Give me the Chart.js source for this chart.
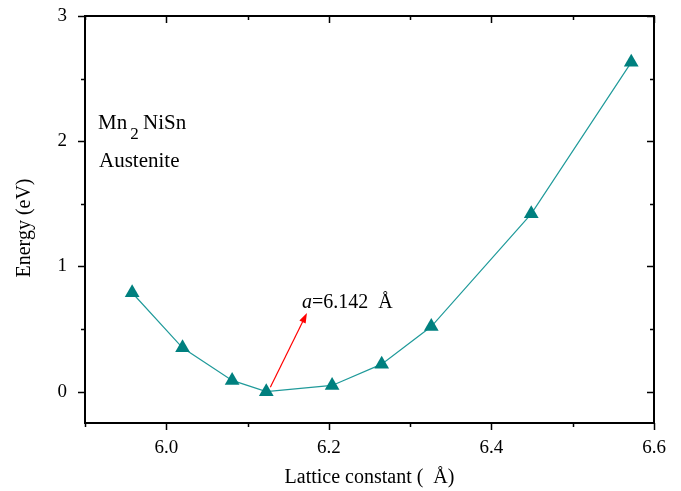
<!DOCTYPE html>
<html>
<head>
<meta charset="utf-8">
<script src="https://cdn.jsdelivr.net/npm/chart.js@4"></script>
<style>
  body { margin: 0; background: #fff; }
  canvas { display: block; }
</style>
</head>
<body>
<canvas id="grafico" width="681" height="491"></canvas>
<script>
// dados
const latticeA = [5.958, 6.020, 6.081, 6.123, 6.204, 6.265, 6.326, 6.449, 6.572];
const energyEv = [0.79, 0.35, 0.09, 0.0, 0.05, 0.22, 0.52, 1.42, 2.63];
const xTicks = [6.0, 6.2, 6.4, 6.6];
const xMinor = [5.9, 6.1, 6.3, 6.5];
const yTicks = [0, 1, 2, 3];
const yMinor = [0.5, 1.5, 2.5];
const arrowFrom = [6.128, 0.036];
const arrowTo = [6.173, 0.628];

const serif = '"Liberation Serif", "Times New Roman", serif';

// moldura, marcas, seta e textos
const moldura = {
    id: 'moldura',
    afterDraw(chart) {
        const ctx = chart.ctx;
        const a = chart.chartArea;
        const xs = chart.scales.x, ys = chart.scales.y;
        ctx.save();
        ctx.strokeStyle = '#000';
        ctx.lineWidth = 2;
        ctx.strokeRect(a.left, a.top, a.right - a.left, a.bottom - a.top);

        ctx.lineWidth = 1.5;
        ctx.beginPath();
        const tickX = (vals, len) => vals.forEach(v => {
            const px = Math.round(xs.getPixelForValue(v)) + 0.5;
            ctx.moveTo(px, a.bottom); ctx.lineTo(px, a.bottom + len);
            ctx.moveTo(px, a.top); ctx.lineTo(px, a.top + len);
        });
        const tickY = (vals, len) => vals.forEach(v => {
            const py = Math.round(ys.getPixelForValue(v)) + 0.5;
            ctx.moveTo(a.left, py); ctx.lineTo(a.left - len, py);
            ctx.moveTo(a.right, py); ctx.lineTo(a.right - len, py);
        });
        tickX(xTicks, 7); tickX(xMinor, 4);
        tickY(yTicks, 7); tickY(yMinor, 4);
        ctx.stroke();

        // seta vermelha
        const x0 = xs.getPixelForValue(arrowFrom[0]), y0 = ys.getPixelForValue(arrowFrom[1]);
        const x1 = xs.getPixelForValue(arrowTo[0]), y1 = ys.getPixelForValue(arrowTo[1]);
        const ang = Math.atan2(y1 - y0, x1 - x0);
        ctx.strokeStyle = '#ff0000';
        ctx.fillStyle = '#ff0000';
        ctx.lineWidth = 1.2;
        ctx.beginPath();
        ctx.moveTo(x0, y0);
        ctx.lineTo(x1 - 6 * Math.cos(ang), y1 - 6 * Math.sin(ang));
        ctx.stroke();
        ctx.beginPath();
        ctx.moveTo(x1, y1);
        ctx.lineTo(x1 - 10 * Math.cos(ang) + 3.5 * Math.sin(ang), y1 - 10 * Math.sin(ang) - 3.5 * Math.cos(ang));
        ctx.lineTo(x1 - 10 * Math.cos(ang) - 3.5 * Math.sin(ang), y1 - 10 * Math.sin(ang) + 3.5 * Math.cos(ang));
        ctx.closePath();
        ctx.fill();

        // textos
        ctx.fillStyle = '#000';
        ctx.textBaseline = 'alphabetic';
        ctx.textAlign = 'left';
        ctx.font = 'italic 20px ' + serif;
        ctx.fillText('a', 302, 308);
        let w = ctx.measureText('a').width;
        ctx.font = '20px ' + serif;
        ctx.fillText('=6.142  Å', 302 + w, 308);

        ctx.font = '21px ' + serif;
        ctx.fillText('Mn', 98, 129);
        w = ctx.measureText('Mn').width;
        ctx.font = '17px ' + serif;
        ctx.fillText('2', 98 + w + 3, 139);
        ctx.font = '21px ' + serif;
        ctx.fillText('NiSn', 143, 129);
        ctx.fillText('Austenite', 99, 167);

        // títulos dos eixos
        ctx.font = '20px ' + serif;
        ctx.textAlign = 'center';
        ctx.textBaseline = 'middle';
        ctx.fillText('Lattice constant (  Å)', (a.left + a.right) / 2, 478);
        ctx.translate(25, 228);
        ctx.rotate(-Math.PI / 2);
        ctx.fillText('Energy (eV)', 0, 0);
        ctx.restore();
    }
};

function configurarGrafico() {
    const ctx = document.getElementById('grafico').getContext('2d');
    new Chart(ctx, {
        type: 'line',
        data: {
            datasets: [{
                data: latticeA.map((x, i) => ({ x: x, y: energyEv[i] })),
                borderColor: '#1f9a9a',
                borderWidth: 1.2,
                pointStyle: 'triangle',
                pointRadius: 8.5,
                pointBackgroundColor: '#00807f',
                pointBorderWidth: 0,
                pointBorderColor: '#00807f',
                fill: false,
                tension: 0
            }]
        },
        options: {
            responsive: false,
            animation: false,
            devicePixelRatio: 1,
            layout: { padding: { top: 16, right: 27, left: 0, bottom: 0 } },
            plugins: { legend: { display: false }, tooltip: { enabled: false } },
            scales: {
                x: {
                    type: 'linear',
                    min: 5.9,
                    max: 6.6,
                    grid: { display: false, drawTicks: false },
                    border: { display: false },
                    afterBuildTicks: s => { s.ticks = xTicks.map(v => ({ value: v })); },
                    afterFit: s => { s.height = 68; s.paddingLeft = 0; s.paddingRight = 0; },
                    ticks: {
                        padding: 14,
                        color: '#000',
                        font: { family: serif, size: 19 },
                        callback: v => v.toFixed(1)
                    }
                },
                y: {
                    type: 'linear',
                    min: -0.25,
                    max: 3,
                    grid: { display: false, drawTicks: false },
                    border: { display: false },
                    afterBuildTicks: s => { s.ticks = yTicks.map(v => ({ value: v })); },
                    afterFit: s => { s.width = 85; s.paddingTop = 0; s.paddingBottom = 0; },
                    ticks: {
                        padding: 18,
                        color: '#000',
                        font: { family: serif, size: 19 },
                        callback: v => String(v)
                    }
                }
            }
        },
        plugins: [moldura]
    });
}

window.onload = function() {
    configurarGrafico();
};
</script>
</body>
</html>
